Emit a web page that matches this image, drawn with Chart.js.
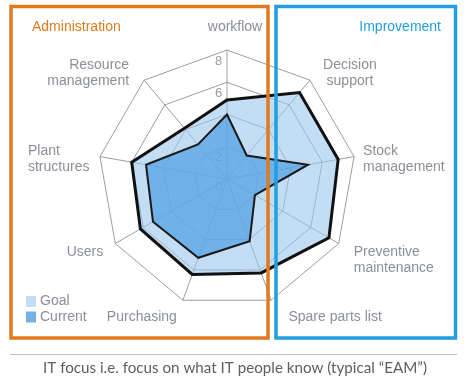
<!DOCTYPE html>
<html>
<head>
<meta charset="utf-8">
<script src="https://cdn.jsdelivr.net/npm/chart.js@4"></script>
<style>
  html, body { margin: 0; padding: 0; background: #ffffff; }
  #wrap { width: 464px; height: 379px; }
</style>
</head>
<body>
<div id="wrap"><canvas id="c" width="464" height="379"></canvas></div>
<script>
// ---- data ----
const categories = ["workflow", ["Decision", "support"], ["Stock", "management"], ["Preventive", "maintenance"], "Spare parts list", "Purchasing", "Users", ["Plant", "structures"], ["Resource", "management"]];
const goalValues = [4.9, 7.0, 7.0, 7.3, 6.2, 6.3, 6.2, 6.0, 4.1];
const currentValues = [4.0, 1.9, 5.1, 2.0, 4.1, 5.2, 5.3, 5.1, 2.8];
const tickValues = [0, 2, 4, 6, 8];
const seriesNames = ["Goal", "Current"];
const groupTitles = ["Administration", "Improvement"];
const caption = "IT focus i.e. focus on what IT people know (typical \u201CEAM\u201D)";

// ---- layout / style (not data) ----
const labelLayout = [
  {dx: 8, dy: -23, align: "center"},
  {dx: 40, dy: -15, align: "center"},
  {dx: 9, dy: -5, align: "left"},
  {dx: 15, dy: 9, align: "left"},
  {dx: 64, dy: 17, align: "center"},
  {dx: -41, dy: 17, align: "center"},
  {dx: -12, dy: 8.5, align: "right"},
  {dx: -72, dy: -5, align: "left"},
  {dx: -15, dy: -15, align: "right"}
];
const GREY_TEXT = "#8b8f97";
const ORANGE = "#e07a1c";
const BLUE = "#229fe0";
const GOAL_SOLID = "#c3ddf4";
const CUR_SOLID = "#72b2e8";

const overlay = {
  id: "overlay",
  beforeDatasetsDraw(chart) {
    const s = chart.scales.r;
    const ctx = chart.ctx;
    ctx.save();
    ctx.font = "13px 'Liberation Sans', Arial, sans-serif";
    ctx.fillStyle = "#9a9a9a";
    ctx.textAlign = "center";
    ctx.textBaseline = "middle";
    tickValues.forEach(v => {
      const d = s.getDistanceFromCenterForValue(v);
      ctx.fillText(String(v), s.xCenter - 8.5, s.yCenter - d + (v === 0 ? 8 : 11));
    });
    ctx.restore();
  },
  afterDraw(chart) {
    const s = chart.scales.r;
    const ctx = chart.ctx;
    ctx.save();
    // point labels
    ctx.font = "14px 'Liberation Sans', Arial, sans-serif";
    ctx.fillStyle = GREY_TEXT;
    ctx.textBaseline = "middle";
    const outer = s.getDistanceFromCenterForValue(s.max);
    categories.forEach((lab, i) => {
      const p = s.getPointPosition(i, outer);
      const L = labelLayout[i];
      ctx.textAlign = L.align;
      const lines = Array.isArray(lab) ? lab : [lab];
      lines.forEach((t, k) => ctx.fillText(t, p.x + L.dx, p.y + L.dy + k * 15.5));
    });
    // frames
    ctx.lineWidth = 3.5;
    ctx.strokeStyle = ORANGE;
    ctx.strokeRect(11, 6.5, 257, 331.5);
    ctx.strokeStyle = BLUE;
    ctx.strokeRect(276, 6.5, 179.5, 331.5);
    // group titles
    ctx.textAlign = "left";
    ctx.fillStyle = ORANGE;
    ctx.fillText(groupTitles[0], 32, 27);
    ctx.textAlign = "right";
    ctx.fillStyle = BLUE;
    ctx.fillText(groupTitles[1], 441, 27);
    // legend
    ctx.fillStyle = GOAL_SOLID;
    ctx.fillRect(26, 296, 10, 11);
    ctx.fillStyle = CUR_SOLID;
    ctx.fillRect(26, 311.5, 10, 11);
    ctx.fillStyle = GREY_TEXT;
    ctx.textAlign = "left";
    ctx.fillText(seriesNames[0], 40, 301.5);
    ctx.fillText(seriesNames[1], 40, 317);
    // separator
    ctx.strokeStyle = "#bdbdbd";
    ctx.lineWidth = 1;
    ctx.beginPath();
    ctx.moveTo(10, 354.5);
    ctx.lineTo(457, 354.5);
    ctx.stroke();
    // caption
    ctx.font = "16px Lato, 'Open Sans', sans-serif";
    const w16 = ctx.measureText(caption).width;
    const size = 16 * 384 / w16;
    ctx.font = size.toFixed(2) + "px Lato, 'Open Sans', sans-serif";
    ctx.fillStyle = "#5e5e5e";
    ctx.textAlign = "center";
    ctx.fillText(caption, 235, 368);
    ctx.restore();
  }
};

new Chart(document.getElementById("c"), {
  type: "radar",
  data: {
    labels: categories,
    datasets: [
      {
        label: seriesNames[1],
        data: currentValues,
        backgroundColor: "rgba(79,160,227,0.7)",
        borderColor: "#1a1a1a",
        borderWidth: 2,
        pointRadius: 0,
        fill: true
      },
      {
        label: seriesNames[0],
        data: goalValues,
        backgroundColor: "rgba(155,198,237,0.6)",
        borderColor: "#111111",
        borderWidth: 3,
        pointRadius: 0,
        fill: true
      }
    ]
  },
  options: {
    responsive: false,
    devicePixelRatio: 1,
    animation: false,
    layout: { padding: { left: 98, top: 50, right: 108, bottom: 71 } },
    plugins: { legend: { display: false }, tooltip: { enabled: false } },
    elements: { line: { tension: 0, borderJoinStyle: "miter" } },
    scales: {
      r: {
        min: 0,
        max: 8,
        ticks: { stepSize: 2, display: false },
        pointLabels: { display: false },
        grid: { color: "#9c9c9c", lineWidth: 1 },
        angleLines: { color: "#9c9c9c", lineWidth: 1 }
      }
    }
  },
  plugins: [overlay]
});
</script>
</body>
</html>
